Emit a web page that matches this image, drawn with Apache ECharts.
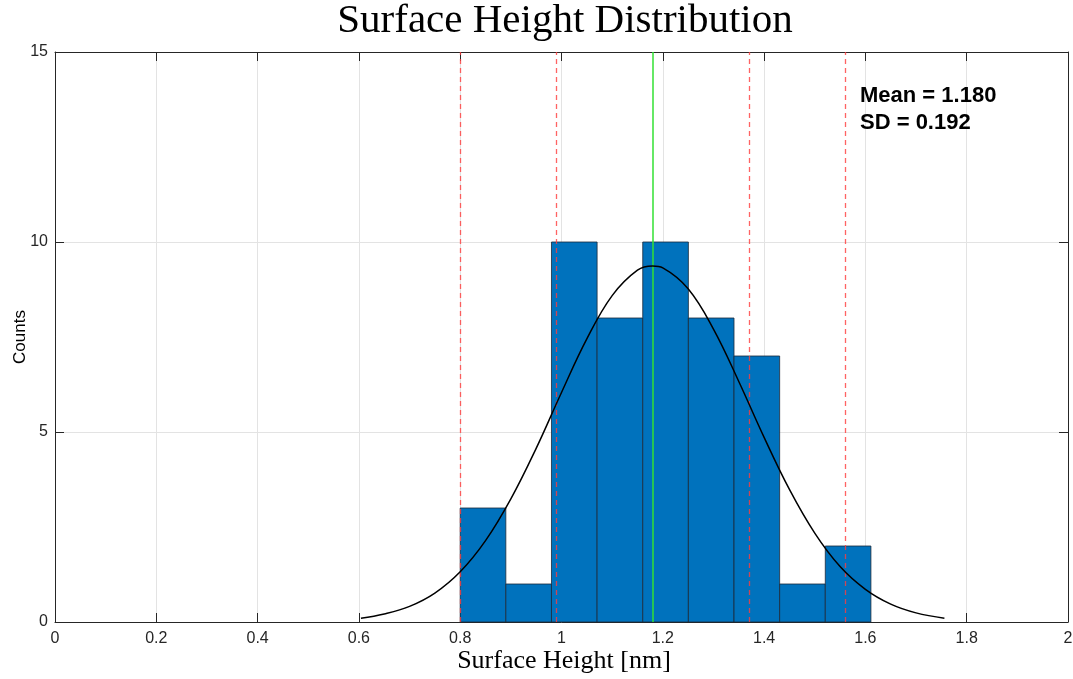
<!DOCTYPE html>
<html>
<head>
<meta charset="utf-8">
<script src="https://cdn.jsdelivr.net/npm/echarts@6/dist/echarts.min.js"></script>
<style>html,body{margin:0;padding:0;background:#fff}#c{width:1073px;height:679px}</style>
</head>
<body>
<div id="c"></div>
<script>
// Histogram bins (left edges) and counts
var binEdges = [0.8000, 0.8901, 0.9802, 1.0703, 1.1604, 1.2505, 1.3406, 1.4307, 1.5208, 1.6109];
var counts = [3, 1, 10, 8, 10, 8, 7, 1, 2];
// Fitted curve
var curveX = [0.604, 0.65, 0.70, 0.75, 0.80, 0.85, 0.90, 0.95, 1.00, 1.05, 1.10, 1.15, 1.18, 1.20, 1.25, 1.30, 1.35, 1.40, 1.45, 1.50, 1.55, 1.60, 1.65, 1.70, 1.756];
var curveY = [0.10, 0.21, 0.41, 0.76, 1.32, 2.14, 3.24, 4.57, 6.04, 7.45, 8.59, 9.26, 9.37, 9.32, 8.77, 7.71, 6.33, 4.86, 3.49, 2.34, 1.46, 0.86, 0.47, 0.24, 0.10];
var meanLine = [1.180];
var sdLines = [0.796, 0.988, 1.372, 1.564];
var xTicks = [0, 0.2, 0.4, 0.6, 0.8, 1, 1.2, 1.4, 1.6, 1.8, 2];
var yTicks = [0, 5, 10, 15];
var statsText = ['Mean = 1.180', 'SD = 0.192'];

var bars = [];
for (var i = 0; i < counts.length; i++) bars.push([binEdges[i], binEdges[i + 1], counts[i]]);
var curve = curveX.map(function (x, i) { return [x, curveY[i]]; });

var chart = echarts.init(document.getElementById('c'), null, {renderer: 'canvas'});
var axisCol = '#262626';
var labelFont = {color: axisCol, fontSize: 16, fontFamily: 'Liberation Sans, Arial, sans-serif'};
chart.setOption({
  animation: false,
  grid: {left: 55, right: 5, top: 52, bottom: 57, containLabel: false, outerBoundsMode: 'none'},
  xAxis: [{
    type: 'value', min: 0, max: 2, interval: 0.2,
    axisLine: {show: true, onZero: false, lineStyle: {color: axisCol, width: 1}},
    axisTick: {show: true, inside: true, length: 9, lineStyle: {color: axisCol}},
    axisLabel: Object.assign({margin: 9, formatter: function (v) { return String(Math.round(v * 10) / 10); }}, labelFont),
    splitLine: {show: true, lineStyle: {color: '#e3e3e3', width: 1}}
  }, {
    type: 'value', min: 0, max: 2, interval: 0.2, position: 'top',
    axisLine: {show: true, onZero: false, lineStyle: {color: axisCol, width: 1}},
    axisTick: {show: true, inside: true, length: 9, lineStyle: {color: axisCol}},
    axisLabel: {show: false}, splitLine: {show: false}
  }],
  yAxis: [{
    type: 'value', min: 0, max: 15, interval: 5,
    axisLine: {show: true, onZero: false, lineStyle: {color: axisCol, width: 1}},
    axisTick: {show: true, inside: true, length: 9, lineStyle: {color: axisCol}},
    axisLabel: Object.assign({margin: 7}, labelFont),
    splitLine: {show: true, lineStyle: {color: '#e3e3e3', width: 1}}
  }, {
    type: 'value', min: 0, max: 15, interval: 5, position: 'right',
    axisLine: {show: true, onZero: false, lineStyle: {color: axisCol, width: 1}},
    axisTick: {show: true, inside: true, length: 9, lineStyle: {color: axisCol}},
    axisLabel: {show: false}, splitLine: {show: false}
  }],
  graphic: [
    {type: 'text', style: {text: 'Surface Height Distribution', x: 565, y: 1, textAlign: 'center', font: '41px "Liberation Serif", "Times New Roman", serif', fill: '#000'}, z: 100},
    {type: 'text', style: {text: 'Surface Height [nm]', x: 564, y: 648, textAlign: 'center', font: '26px "Liberation Serif", "Times New Roman", serif', fill: '#000'}, z: 100},
    {type: 'text', x: 20, y: 337, rotation: Math.PI / 2, style: {text: 'Counts', x: 0, y: 0, textAlign: 'center', textVerticalAlign: 'middle', font: '17px "Liberation Sans", Arial, sans-serif', fill: '#000'}, z: 100},
    {type: 'text', style: {text: statsText[0], x: 860, y: 85, font: 'bold 22px "Liberation Sans", Arial, sans-serif', fill: '#000'}, z: 100},
    {type: 'text', style: {text: statsText[1], x: 860, y: 112, font: 'bold 22px "Liberation Sans", Arial, sans-serif', fill: '#000'}, z: 100}
  ],
  series: [{
    type: 'custom',
    data: bars,
    encode: {x: [0, 1], y: 2},
    renderItem: function (params, api) {
      var p0 = api.coord([api.value(0), api.value(2)]);
      var p1 = api.coord([api.value(1), 0]);
      return {
        type: 'rect',
        shape: {x: p0[0], y: p0[1], width: p1[0] - p0[0], height: p1[1] - p0[1]},
        style: {fill: '#0072BD', stroke: '#1a2a3a', lineWidth: 0.8}
      };
    },
    z: 2
  }, {
    type: 'line',
    data: curve,
    smooth: 0.4,
    symbol: 'none',
    lineStyle: {color: '#000', width: 1.5},
    z: 5
  }, {
    type: 'line', data: [], z: 4,
    markLine: {
      silent: true, symbol: 'none', label: {show: false},
      data: sdLines.map(function (v) { return {xAxis: v, lineStyle: {color: 'rgba(255,60,60,0.8)', type: [5, 4], width: 1.3}}; })
        .concat(meanLine.map(function (v) { return {xAxis: v, lineStyle: {color: '#33e033', type: 'solid', width: 1.5}}; }))
    }
  }]
});
</script>
</body>
</html>
